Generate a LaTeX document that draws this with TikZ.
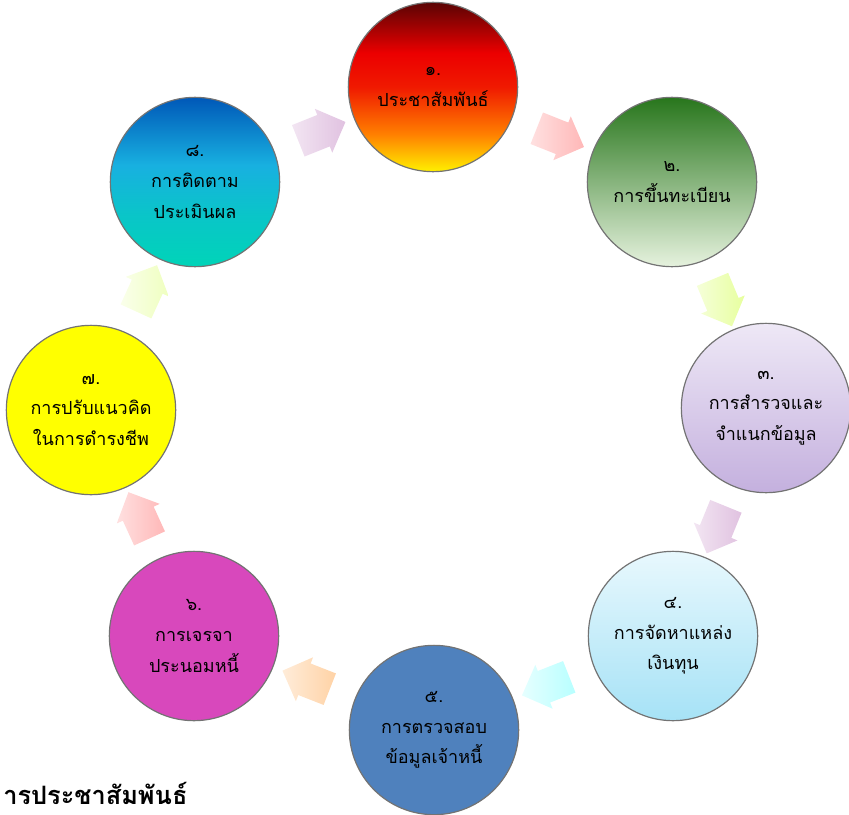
\documentclass[tikz,border=0pt]{standalone}
\usepackage{fontspec}
\usepackage{tikz}
\usepackage{xcolor}
\usetikzlibrary{shapes.arrows, positioning}
\newfontfamily\thaifont[Script=Thai]{Loma}
\definecolor{stageGreenTop}{RGB}{40,118,28}
\definecolor{stageGreenMid}{RGB}{128,176,96}
\definecolor{stageGreenLow}{RGB}{230,242,222}
\definecolor{stageLilacTop}{RGB}{238,232,246}
\definecolor{stageLilacLow}{RGB}{196,176,222}
\definecolor{stageSkyTop}{RGB}{232,248,253}
\definecolor{stageSkyLow}{RGB}{166,226,246}
\definecolor{stageBlue}{RGB}{79,129,189}
\definecolor{stageMagenta}{RGB}{216,72,188}
\definecolor{stageYellow}{RGB}{255,255,0}
\definecolor{sunDark}{RGB}{90,4,4}
\definecolor{sunRed}{RGB}{236,0,0}
\definecolor{sunOrange}{RGB}{255,128,0}
\definecolor{sunYellow}{RGB}{255,240,0}
\definecolor{seaTop}{RGB}{0,88,184}
\definecolor{seaMid}{RGB}{24,176,224}
\definecolor{seaLow}{RGB}{0,212,184}
\pgfdeclareverticalshading{sunset}{100bp}{color(0bp)=(sunYellow); color(25bp)=(sunYellow); color(36bp)=(sunOrange); color(50bp)=(sunRed!80!sunOrange); color(60bp)=(sunRed); color(75bp)=(sunDark); color(100bp)=(sunDark)}
\pgfdeclareverticalshading{ocean}{100bp}{color(0bp)=(seaLow); color(25bp)=(seaLow); color(40bp)=(seaMid!40!seaLow); color(55bp)=(seaMid); color(75bp)=(seaTop); color(100bp)=(seaTop)}

\begin{document}
\begin{tikzpicture}[x=0.75pt, y=-0.75pt,
    stage/.style={circle, draw=black!55, line width=0.9pt, minimum size=127pt, align=center,
        font=\thaifont\fontsize{13.5}{23}\selectfont},
    flow/.style={single arrow, draw=none, minimum height=37pt, inner sep=12.5pt,
        single arrow head extend=5pt, sloped, allow upside down}]
    \useasboundingbox (0,0) rectangle (849,814);
    \node[stage, shading=sunset] (c1) at (433,87) {๑.\\ประชาสัมพันธ์};
    \node[stage, top color=stageGreenTop, middle color=stageGreenMid, bottom color=stageGreenLow] (c2) at (672,182) {๒.\\การขึ้นทะเบียน};
    \node[stage, top color=stageLilacTop, bottom color=stageLilacLow] (c3) at (766,408) {๓.\\การสำรวจและ\\จำแนกข้อมูล};
    \node[stage, top color=stageSkyTop, bottom color=stageSkyLow] (c4) at (673,636) {๔.\\การจัดหาแหล่ง\\เงินทุน};
    \node[stage, fill=stageBlue] (c5) at (434,730) {๕.\\การตรวจสอบ\\ข้อมูลเจ้าหนี้};
    \node[stage, fill=stageMagenta] (c6) at (194,636) {๖.\\การเจรจา\\ประนอมหนี้};
    \node[stage, fill=stageYellow] (c7) at (91,410) {๗.\\การปรับแนวคิด\\ในการดำรงชีพ};
    \node[stage, shading=ocean] (c8) at (195,182) {๘.\\การติดตาม\\ประเมินผล};
    % arrows round the ring
    \path (c1) -- node[flow, left color=red!12, right color=red!28] (a12) {} (c2);
    \path (c2) -- node[flow, left color=lime!15, right color=lime!38] (a23) {} (c3);
    \path (c3) -- node[flow, left color=violet!10, right color=violet!24] (a34) {} (c4);
    \path (c4) -- node[flow, left color=cyan!10, right color=cyan!28] (a45) {} (c5);
    \path (c5) -- node[flow, left color=orange!15, right color=orange!35] (a56) {} (c6);
    \path (c6) -- node[flow, left color=red!12, right color=red!28] (a67) {} (c7);
    \path (c7) -- node[flow, left color=lime!8, right color=lime!25] (a78) {} (c8);
    \path (c8) -- node[flow, left color=violet!10, right color=violet!24] (a81) {} (c1);
    \node[anchor=base west, font=\thaifont\bfseries\fontsize{19}{22}\selectfont, inner sep=0pt, text depth=0pt] (caption) at (3,804) {ารประชาสัมพันธ์};
\end{tikzpicture}
\end{document}
